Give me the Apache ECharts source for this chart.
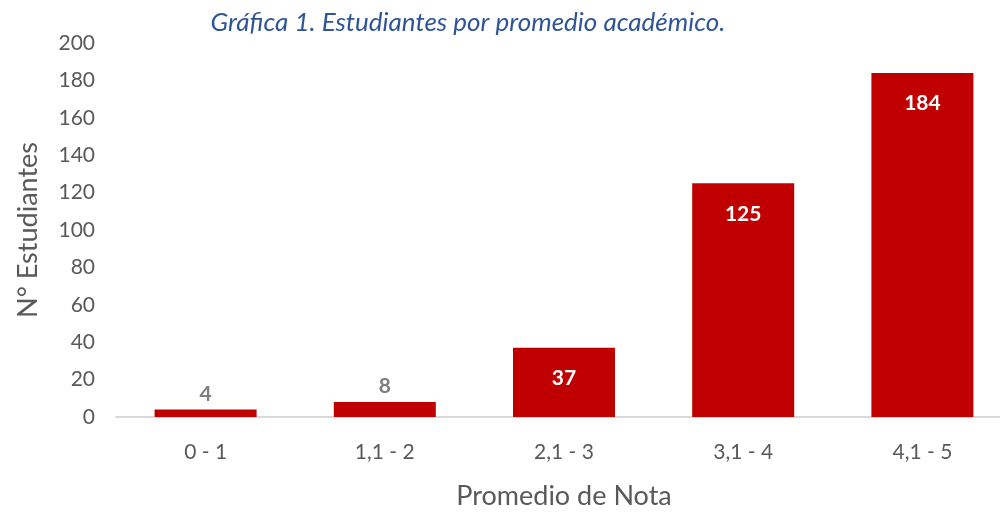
<!DOCTYPE html>
<html>
<head>
<meta charset="utf-8">
<script src="https://cdn.jsdelivr.net/npm/echarts@6/dist/echarts.min.js"></script>
<style>
html, body { margin: 0; padding: 0; background: #fff; }
#main { width: 1000px; height: 514px; }
</style>
</head>
<body>
<div id="main"></div>
<script>
var categories = ['0 - 1', '1,1 - 2', '2,1 - 3', '3,1 - 4', '4,1 - 5'];
var values = [4, 8, 37, 125, 184];
var yTicks = { min: 0, max: 200, interval: 20 };

var myChart = echarts.init(document.getElementById('main'));

// small bars get the label above in gray, tall ones inside in white
var barData = values.map(function (v) {
	var inside = v > 20;
	return {
		value: v,
		label: inside
			? { position: 'insideTop', distance: 20, color: '#ffffff' }
			: { position: 'top', distance: 5, color: '#7f7f7f' }
	};
});

var option = {
	backgroundColor: '#ffffff',
	animation: false,
	textStyle: { fontFamily: 'Lato' },
	title: {
		text: 'Gráfica 1. Estudiantes por promedio académico.',
		left: 463,
		top: 5,
		textAlign: 'center',
		textStyle: {
			fontFamily: 'Lato',
			fontStyle: 'italic',
			fontWeight: 'normal',
			fontSize: 26,
			color: '#2f5597'
		}
	},
	grid: {
		left: 116,
		right: -12,
		top: 43,
		bottom: 97,
		containLabel: false,
		outerBoundsMode: 'none'
	},
	xAxis: {
		type: 'category',
		data: categories,
		name: 'Promedio de Nota',
		nameLocation: 'middle',
		nameGap: 66,
		nameTextStyle: { fontSize: 27, color: '#595959', fontFamily: 'Lato' },
		axisLine: { lineStyle: { color: '#d9d9d9', width: 2 } },
		axisTick: { show: false },
		axisLabel: { fontSize: 21, color: '#595959', margin: 25 }
	},
	yAxis: {
		type: 'value',
		min: yTicks.min,
		max: yTicks.max,
		interval: yTicks.interval,
		name: 'N° Estudiantes',
		nameLocation: 'middle',
		nameGap: 74,
		nameRotate: 90,
		nameTextStyle: { fontSize: 27, color: '#595959', fontFamily: 'Lato' },
		axisLine: { show: false },
		axisTick: { show: false },
		splitLine: { show: false },
		axisLabel: { fontSize: 21, color: '#595959', margin: 21 }
	},
	series: [{
		type: 'bar',
		data: barData,
		barWidth: 102,
		itemStyle: { color: '#c00000' },
		label: {
			show: true,
			fontSize: 21,
			fontWeight: 'bold',
			fontFamily: 'Lato'
		}
	}]
};

myChart.setOption(option);
</script>
</body>
</html>
